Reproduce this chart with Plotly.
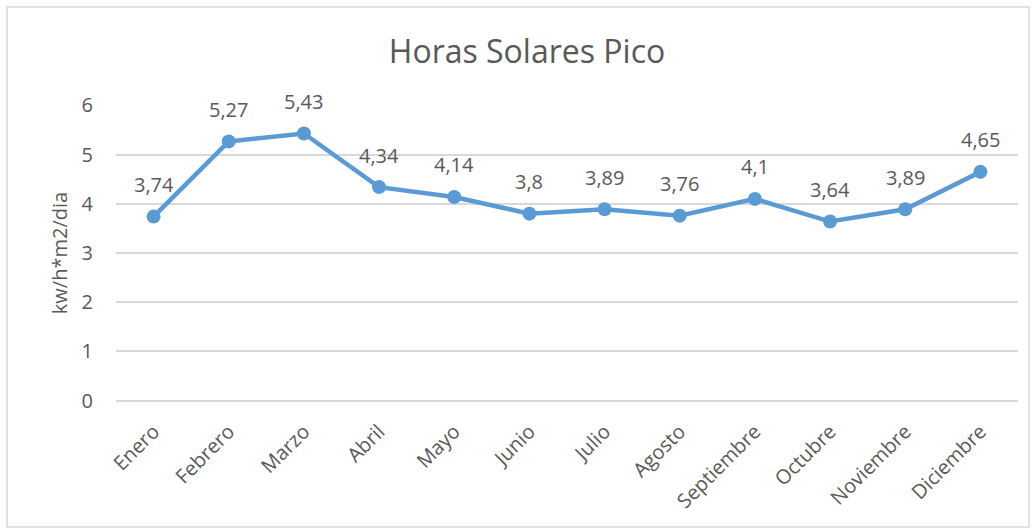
import plotly.graph_objects as go

meses = ['Enero', 'Febrero', 'Marzo', 'Abril', 'Mayo', 'Junio', 'Julio',
         'Agosto', 'Septiembre', 'Octubre', 'Noviembre', 'Diciembre']
horas = [3.74, 5.27, 5.43, 4.34, 4.14, 3.8, 3.89, 3.76, 4.1, 3.64, 3.89, 4.65]
etiquetas = [str(v).replace('.', ',') for v in horas]
y_ticks = [0, 1, 2, 3, 4, 5, 6]

azul = '#5B9BD5'
gris = '#595959'
fuente = 'Open Sans, Liberation Sans, sans-serif'

fig = go.Figure()
fig.add_trace(go.Scatter(
    x=meses, y=horas, mode='lines+markers',
    line=dict(color=azul, width=4.5),
    marker=dict(color=azul, size=14),
    cliponaxis=False, hoverinfo='skip'))

# etiquetas de datos sobre cada punto
for mes, v, t in zip(meses, horas, etiquetas):
    fig.add_annotation(x=mes, y=v, text=t, showarrow=False, yshift=32,
                       font=dict(size=20, color=gris, family=fuente))

# marco del gráfico
L, R, T, B = 116, 16, 105, 130
W, H = 1034, 531
pw, ph = W - L - R, H - T - B
fig.add_shape(type='rect', xref='paper', yref='paper',
              x0=(7 - L) / pw, x1=(1029 - L) / pw,
              y0=-(527 - (H - B)) / ph, y1=1 + (T - 7) / ph,
              line=dict(color='#d9d9d9', width=1.5), fillcolor='rgba(0,0,0,0)')

fig.update_layout(
    width=W, height=H,
    margin=dict(l=L, r=R, t=T, b=B),
    paper_bgcolor='white', plot_bgcolor='white',
    showlegend=False,
    font=dict(family=fuente, color=gris),
    title=dict(text='Horas Solares Pico', x=527 / W, xanchor='center',
               y=(H - 52) / H, yanchor='middle',
               font=dict(size=32, color=gris, family=fuente)),
)
fig.update_xaxes(range=[-0.5, 11.5], tickangle=-45, showgrid=False,
                 automargin=False, showline=False, ticks='',
                 ticklabelstandoff=14,
                 tickfont=dict(size=20, color=gris))
fig.update_yaxes(range=[-0.01, 6.01], tickvals=y_ticks, showgrid=True,
                 gridcolor='#d9d9d9', gridwidth=1.5,
                 zeroline=True, zerolinecolor='#d9d9d9', zerolinewidth=1.5,
                 automargin=False, showline=False, ticks='',
                 ticklabelstandoff=22,
                 tickfont=dict(size=20, color=gris),
                 title=dict(text='kw/h*m2/dia', font=dict(size=20, color=gris), standoff=8))

fig.write_html('out.html', config={'displayModeBar': False},
               post_script="document.body.style.margin='0px';")
